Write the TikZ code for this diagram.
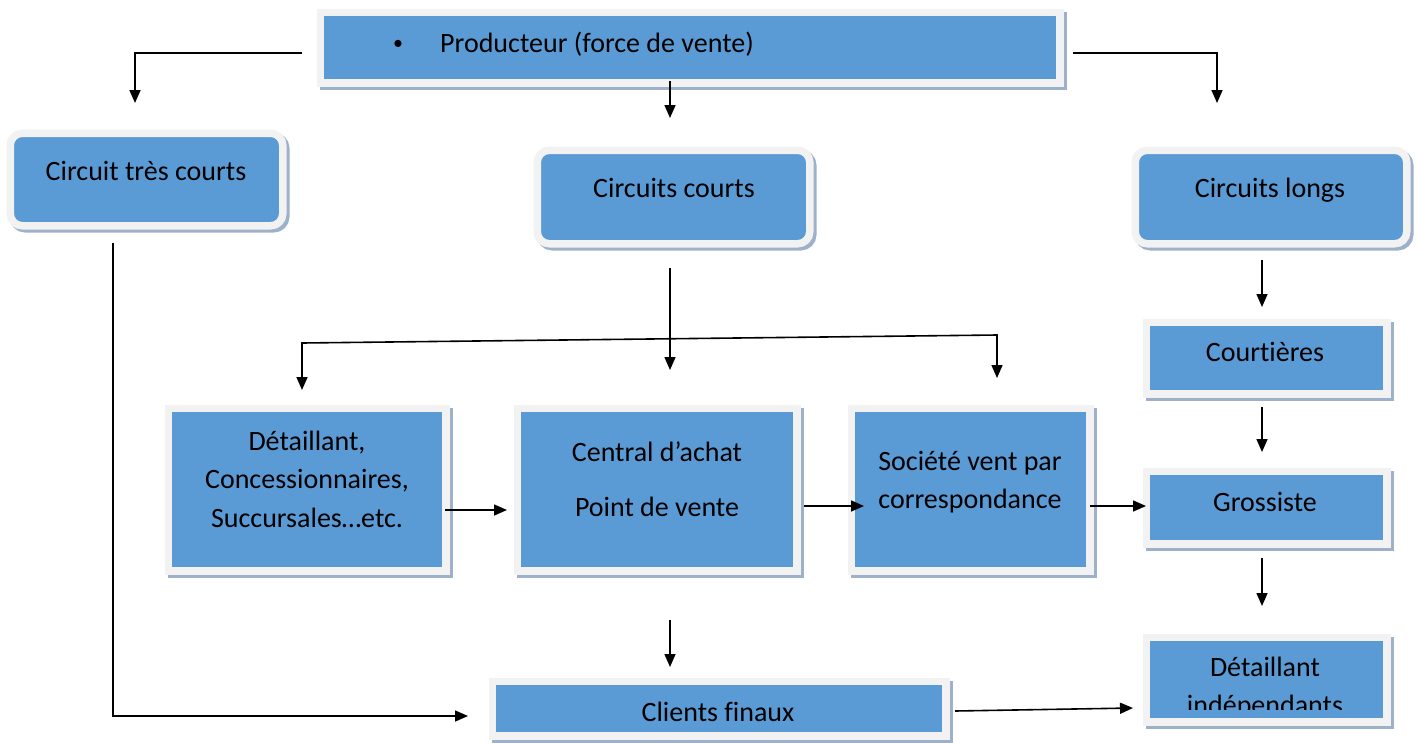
\documentclass[tikz,border=0pt]{standalone}
\usepackage{fontspec}
\setmainfont{Carlito}[Ligatures=NoCommon]
\usetikzlibrary{arrows.meta}
\definecolor{boxblue}{HTML}{5B9BD5}
\definecolor{frameg}{HTML}{F2F2F2}
\definecolor{shadowc}{HTML}{9DB1CA}
\begin{document}
\begin{tikzpicture}[x=1pt,y=-1pt,
  box/.style={rectangle, inner sep=0pt, fill=boxblue, draw=frameg, line width=7.5pt,
    preaction={fill=shadowc, draw=shadowc, line width=7.5pt, transform canvas={shift={(3,3)}}}},
  rbox/.style={box, rounded corners=12pt},
  txt/.style={anchor=base, inner sep=0pt, font=\fontsize{28}{34}\selectfont},
  arr/.style={line width=1.6pt, -{Triangle[length=13pt,width=11pt]}},
  biarr/.style={line width=1.6pt, {Triangle[length=13pt,width=11pt]}-{Triangle[length=13pt,width=11pt]}},
  ln/.style={line width=1.6pt}]
\useasboundingbox (0,0) rectangle (1418,742);

% boxes
\node[box, minimum width=739.5pt, minimum height=70.5pt] (prod) at (690,47.5) {};
\node[rbox, minimum width=272.5pt, minimum height=92.5pt] (ctc) at (146.5,179.5) {};
\node[rbox, minimum width=272.5pt, minimum height=93.5pt] (cc) at (673.5,197) {};
\node[rbox, minimum width=271.5pt, minimum height=93.5pt] (cl) at (1271,197) {};
\node[box, minimum width=240.5pt, minimum height=71.5pt] (court) at (1266.5,358) {};
\node[box, minimum width=240.5pt, minimum height=72.5pt] (gros) at (1266.5,507.5) {};
\node[box, minimum width=240.5pt, minimum height=84.5pt] (dind) at (1266.5,679.5) {};
\node[box, minimum width=277.5pt, minimum height=162.5pt] (det) at (307,489.5) {};
\node[box, minimum width=279.5pt, minimum height=162.5pt] (cent) at (657,489.5) {};
\node[box, minimum width=238.5pt, minimum height=162.5pt] (soc) at (970.5,489.5) {};
\node[box, minimum width=453.5pt, minimum height=54.5pt] (cli) at (719,708.5) {};

% texts
\node[txt, font=\fontsize{20}{24}\selectfont] (tbul) at (398,49) {•};
\node[txt, anchor=base west] (tprod) at (440,52) {Producteur (force de vente)};
\node[txt] (tctc) at (146,180) {Circuit très courts};
\node[txt] (tcc) at (674,197) {Circuits courts};
\node[txt] (tcl) at (1270,197) {Circuits longs};
\node[txt] (tcourt) at (1265,361) {Courtières};
\node[txt] (tgros) at (1265,511) {Grossiste};
\node[txt] (tdet1) at (307,450) {Détaillant,};
\node[txt] (tdet2) at (307,488) {Concessionnaires,};
\node[txt] (tdet3) at (307,527) {Succursales…etc.};
\node[txt] (tcent1) at (657,461) {Central d’achat};
\node[txt] (tcent2) at (657,516) {Point de vente};
\node[txt] (tsoc1) at (970,470) {Société vent par};
\node[txt] (tsoc2) at (970,508) {correspondance};
\node[txt] (tcli) at (718,721) {Clients finaux};
\node[txt] (tdind1) at (1265,676) {Détaillant};
\begin{scope}
\clip (1140,630) rectangle (1395,709);
\node[txt] (tdind2) at (1265,714) {indépendants};
\end{scope}

% connector end points
\coordinate (p1s) at (302,53);
\coordinate (p1e) at (135,103);
\coordinate (p2s) at (1073,53);
\coordinate (p2e) at (1217,103);
\coordinate (p3s) at (670,81);
\coordinate (p3e) at (670,118);
\coordinate (c1s) at (670,268);
\coordinate (c1e) at (670,370);
\coordinate (bl) at (302,390);
\coordinate (bl0) at (302,343);
\coordinate (br0) at (997,335);
\coordinate (br) at (997,378);
\coordinate (v1s) at (113,243);
\coordinate (v1e) at (468,716);
\coordinate (h1s) at (445,510);
\coordinate (h1e) at (507,510);
\coordinate (h2s) at (804,506);
\coordinate (h2e) at (864,506);
\coordinate (h3s) at (1090,506);
\coordinate (h3e) at (1146,506);
\coordinate (l1s) at (1262,260);
\coordinate (l1e) at (1262,307);
\coordinate (l2s) at (1262,407);
\coordinate (l2e) at (1262,452);
\coordinate (l3s) at (1262,558);
\coordinate (l3e) at (1262,606);
\coordinate (m1s) at (670,620);
\coordinate (m1e) at (670,667);
\coordinate (f1s) at (955,711);
\coordinate (f1e) at (1133,708);

% connectors
\draw[arr] (p1s) -| (p1e);
\draw[arr] (p2s) -| (p2e);
\draw[arr] (p3s) -- (p3e);
\draw[arr] (c1s) -- (c1e);
\draw[biarr] (bl) -- (bl0) -- (br0) -- (br);
\draw[arr] (v1s) |- (v1e);
\draw[arr] (h1s) -- (h1e);
\draw[arr] (h2s) -- (h2e);
\draw[arr] (h3s) -- (h3e);
\draw[arr] (l1s) -- (l1e);
\draw[arr] (l2s) -- (l2e);
\draw[arr] (l3s) -- (l3e);
\draw[arr] (m1s) -- (m1e);
\draw[arr] (f1s) -- (f1e);
\end{tikzpicture}
\end{document}
